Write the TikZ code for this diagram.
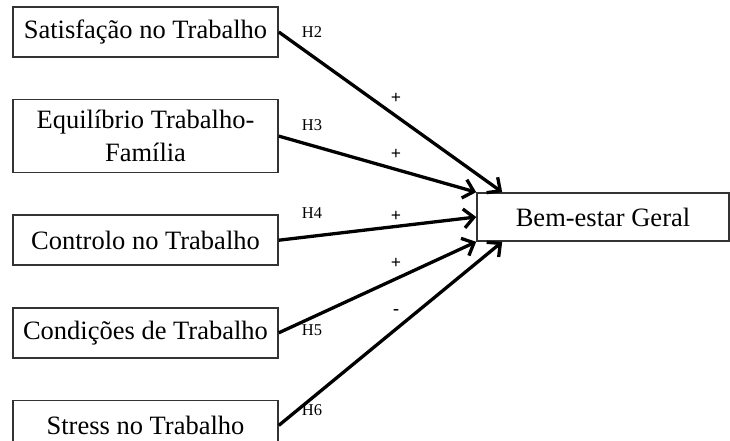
\documentclass[tikz,border=0pt]{standalone}
\usepackage{fontspec}
\setmainfont{Liberation Serif}
\usetikzlibrary{positioning,arrows.meta}

\begin{document}
\begin{tikzpicture}[x=1pt, y=-1pt, node distance=41pt,
  block/.style={draw=black!80, line width=1.6pt, minimum width=265pt, minimum height=50pt, inner sep=0pt, align=center, font=\fontsize{26.5}{33}\selectfont},
  hyp/.style={font=\fontsize{16.5}{18}\selectfont},
  sign/.style={font=\fontsize{18}{20}\selectfont\bfseries},
  link/.style={line width=3.3pt, -{Straight Barb[length=10pt, width=19pt]}}]

  \useasboundingbox (0,0) rectangle (730,441);

  % Left column
  \node[block] (V1) at (145.5,32) {Satisfação no Trabalho};
  \node[block, below=of V1, minimum height=73pt] (V2) {Equilíbrio Trabalho-\\Família};
  \node[block, below=of V2] (V3) {Controlo no Trabalho};
  \node[block, below=of V3] (V4) {Condições de Trabalho};
  \node[block, below=of V4] (V5) {Stress no Trabalho};

  % Outcome
  \node[block, minimum width=252pt, minimum height=48pt] (W) at (603,217) {Bem-estar Geral};

  % Labels
  \node[hyp] (L2) at (312,32) {H2};
  \node[hyp] (L3) at (312,125) {H3};
  \node[hyp] (L4) at (312,213) {H4};
  \node[hyp] (L5) at (312,330) {H5};
  \node[hyp] (L6) at (312,410) {H6};

  \node[sign] (P2) at (396,98) {+};
  \node[sign] (P3) at (396,154) {+};
  \node[sign] (P4) at (396,216) {+};
  \node[sign] (P5) at (396,263) {+};
  \node[sign] (P6) at (396,312) {-};

  % Arrows
  \draw[link] (V1.east) -- ([xshift=26pt]W.north west);
  \draw[link] (V2.east) -- (W.north west);
  \draw[link] (V3.east) -- (W.west);
  \draw[link] (V4.east) -- (W.south west);
  \draw[link] (V5.east) -- ([xshift=26pt]W.south west);

\end{tikzpicture}
\end{document}
